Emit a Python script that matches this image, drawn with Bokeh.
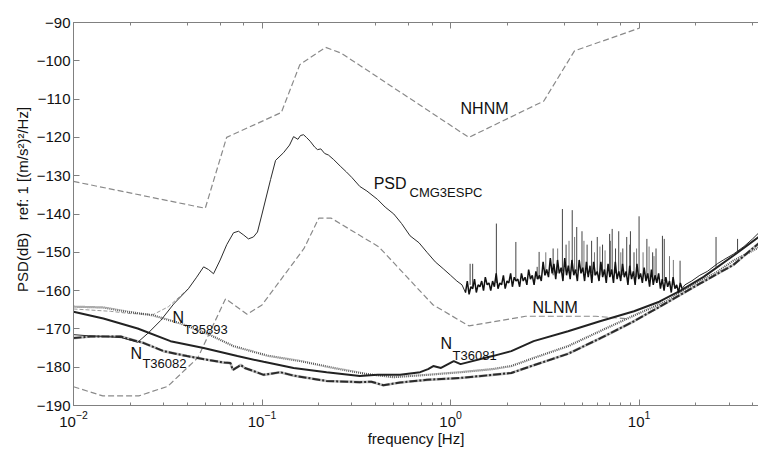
from bokeh.plotting import figure
from bokeh.models import Range1d, LogAxis, LogTicker, FixedTicker
from bokeh.core.properties import value
from bokeh.embed import file_html
from bokeh.resources import INLINE

# ---------------- data ----------------
nhnm_f = [0.01, 0.05, 0.0649, 0.1266, 0.1587, 0.2174, 0.2632, 1.25, 3.125, 4.545, 10.0]
nhnm_db = [-131.5, -138.5, -120.0, -113.5, -101.0, -96.5, -98.0, -120.0, -110.5, -97.4, -91.5]

nlnm_f = [0.01, 0.0143, 0.0222, 0.0316, 0.0457, 0.0641, 0.0833, 0.1, 0.167, 0.2, 0.233,
          0.417, 0.806, 1.25, 2.5, 5.88, 8.8]
nlnm_db = [-185.1, -187.5, -187.5, -185.0, -177.5, -162.1, -166.2, -163.75, -149.0, -141.1, -141.1,
           -148.6, -163.7, -169.2, -166.7, -166.7, -167.4]

# PSD of the CMG-3ESPC record: low-frequency part
psd_low_f = [0.010, 0.012, 0.015, 0.018, 0.0219, 0.025, 0.029, 0.034, 0.0407, 0.045, 0.049, 0.052,
             0.0553, 0.06, 0.065, 0.0706, 0.075, 0.08, 0.0847, 0.09, 0.0946, 0.1, 0.111, 0.118, 0.13,
             0.14, 0.147, 0.155, 0.16, 0.166, 0.172, 0.18, 0.19, 0.197, 0.205, 0.215, 0.225, 0.24,
             0.26, 0.28, 0.30, 0.33, 0.36, 0.41, 0.45, 0.5, 0.55, 0.61, 0.68, 0.75, 0.83, 0.915, 1.0,
             1.08, 1.15, 1.200]
psd_low_db = [-171.5, -171.8, -172.0, -172.3, -173.5, -171.0, -167.8, -163.5, -159.5, -156.5, -153.8, -154.5,
              -155.6, -152.0, -148.0, -144.9, -144.5, -145.5, -146.5, -146.0, -144.7, -140.0, -131.0, -126.0, -124.0,
              -122.0, -119.8, -120.5, -119.5, -119.3, -120.0, -121.0, -122.5, -123.2, -123.0, -124.2, -124.6, -125.8,
              -127.5, -129.0, -130.5, -132.8, -134.0, -136.2, -138.2, -140.0, -142.5, -145.7, -147.5, -150.0, -152.5, -154.3, -156.0,
              -157.5, -158.5, -160.5]

# PSD: noisy band 1.2 - 17 Hz
psd_mid_f = [1.200, 1.227, 1.254, 1.282, 1.311, 1.340, 1.370, 1.400, 1.432, 1.463,
             1.496, 1.529, 1.564, 1.599, 1.634, 1.671, 1.708, 1.746, 1.785, 1.825,
             1.865, 1.907, 1.949, 1.993, 2.037, 2.083, 2.129, 2.177, 2.225, 2.275,
             2.325, 2.377, 2.430, 2.484, 2.540, 2.596, 2.654, 2.713, 2.774, 2.836,
             2.899, 2.963, 3.029, 3.097, 3.166, 3.236, 3.308, 3.382, 3.458, 3.535,
             3.613, 3.694, 3.776, 3.860, 3.946, 4.034, 4.124, 4.216, 4.310, 4.406,
             4.504, 4.605, 4.707, 4.812, 4.919, 5.029, 5.141, 5.256, 5.373, 5.493,
             5.615, 5.740, 5.868, 5.999, 6.133, 6.270, 6.409, 6.552, 6.698, 6.848,
             7.000, 7.156, 7.316, 7.479, 7.646, 7.816, 7.990, 8.169, 8.351, 8.537,
             8.727, 8.922, 9.121, 9.324, 9.532, 9.744, 9.962, 10.18, 10.41, 10.64,
             10.88, 11.12, 11.37, 11.63, 11.89, 12.15, 12.42, 12.70, 12.98, 13.27,
             13.57, 13.87, 14.18, 14.50, 14.82, 15.15, 15.49, 15.83, 16.19, 16.55,
             16.92]
psd_mid_db = [-160.5, -157.5, -161.0, -159.0, -159.5, -157.0, -160.5, -158.5, -159.0, -157.5,
              -160.0, -156.5, -158.5, -158.0, -160.0, -157.5, -159.0, -155.5, -159.5, -158.0,
              -158.5, -156.0, -159.5, -157.5, -158.0, -155.5, -159.0, -156.5, -157.5, -157.0,
              -159.0, -155.5, -157.5, -156.5, -158.5, -154.5, -157.0, -156.0, -158.5, -155.0,
              -157.0, -156.0, -157.5, -152.5, -156.0, -154.5, -156.5, -151.5, -155.5, -153.0,
              -157.0, -152.0, -155.5, -154.0, -157.5, -151.5, -156.0, -153.5, -157.0, -152.0,
              -156.0, -154.5, -157.5, -152.0, -155.5, -154.0, -157.5, -152.5, -156.5, -153.5,
              -158.0, -152.5, -156.0, -155.0, -157.5, -152.5, -156.5, -154.5, -158.0, -153.0,
              -156.5, -154.5, -158.0, -152.5, -157.0, -155.0, -157.5, -153.0, -156.5, -155.0,
              -158.5, -153.5, -157.0, -155.0, -158.5, -153.0, -157.0, -155.5, -158.0, -154.0,
              -157.5, -155.5, -159.0, -154.5, -158.5, -156.0, -158.0, -155.5, -159.5, -157.0,
              -160.0, -156.5, -159.0, -157.5, -160.5, -156.5, -159.5, -158.5, -160.5, -158.0,
              -159.5]

# PSD: high-frequency part
psd_high_f = [16.92, 17.5, 19.0, 21.0, 23.0, 26.0, 28.0, 31.6, 36.0, 40.0, 44.0]
psd_high_db = [-159.5, -158.5, -157.5, -156.0, -155.0, -153.0, -152.0, -150.5, -148.5, -146.5, -144.5]

# tall spectral lines
spike_f = [1.27, 1.31, 1.75, 2.22, 2.88, 2.95, 3.5, 3.92, 4.1, 4.42, 4.67, 4.98, 5.3, 5.6, 6.0, 6.4,
           6.98, 7.2, 7.5, 7.8, 8.2, 8.6, 9.0, 9.4, 10.0, 11.0, 11.8, 12.3, 13.3, 13.6, 16.5, 25.6, 33.3]
spike_base = [-158.5, -159.0, -158.0, -157.5, -157.0, -157.0, -156.0, -155.0, -155.0, -155.0, -155.0, -155.0, -155.5, -155.5, -155.5, -155.5,
              -155.5, -155.5, -155.5, -155.5, -156.0, -156.0, -156.0, -156.0, -156.0, -156.5, -157.0, -157.0, -157.5, -157.5, -158.5, -154.0, -150.0]
spike_top = [-153.0, -153.0, -142.5, -147.3, -153.8, -149.9, -149.0, -138.7, -148.0, -139.0, -143.4, -144.5, -148.0, -147.0, -146.0, -148.0,
             -145.2, -143.9, -149.0, -144.5, -149.0, -146.0, -144.5, -150.0, -140.6, -146.5, -150.0, -149.0, -145.7, -146.5, -152.2, -146.0, -146.5]

# smaller spectral lines
small_f = [3.2, 3.7, 4.25, 4.55, 5.1, 5.8, 6.2, 6.6, 7.05, 8.0, 8.9, 9.7, 10.5, 11.3, 12.0, 14.5, 15.2]
small_base = [-156.0, -155.5, -155.5, -155.5, -155.5, -156.0, -156.0, -156.0, -156.0, -156.0, -156.0, -156.5, -156.5, -157.0, -157.0, -158.0, -158.5]
small_top = [-150.0, -149.0, -147.0, -146.0, -147.0, -150.0, -148.5, -149.5, -147.0, -150.0, -148.0, -149.0, -150.0, -148.5, -151.0, -151.0, -152.0]

aux_f = [0.01, 0.0157, 0.02, 0.0266, 0.0319, 0.0407]
aux_db = [-164.8, -165.4, -166.0, -166.2, -164.2, -159.5]

n35893_f = [0.01, 0.0144, 0.0193, 0.0266, 0.037, 0.051, 0.0706, 0.107, 0.16, 0.24, 0.36, 0.5, 0.61, 0.75,
            1.13, 1.67, 2.1, 2.76, 4.2, 6.2, 9.4, 14.2, 17.2, 26.0, 31.6, 44.0]
n35893_db = [-164.2, -164.4, -165.5, -166.5, -168.6, -171.2, -174.5, -177.0, -178.4, -180.2, -181.8, -182.6, -182.3, -182.0,
             -181.3, -180.5, -179.7, -177.6, -174.5, -170.6, -166.5, -162.6, -160.0, -155.1, -152.2, -148.5]

n36081_f = [0.01, 0.0144, 0.0219, 0.0327, 0.049, 0.074, 0.102, 0.147, 0.22, 0.33, 0.41, 0.54, 0.69, 0.76, 0.81,
            0.89, 1.04, 1.13, 1.67, 2.1, 2.76, 4.2, 6.2, 9.4, 12.8, 16.6, 22.0, 31.6, 44.0]
n36081_db = [-165.5, -167.3, -169.9, -173.2, -175.0, -177.1, -178.6, -180.2, -181.3, -182.3, -182.0, -182.0, -181.3, -180.5, -179.7,
             -180.2, -178.4, -179.2, -177.1, -175.8, -173.2, -170.6, -168.0, -165.4, -162.9, -160.0, -156.4, -150.9, -145.7]

n36082_f = [0.01, 0.0123, 0.0178, 0.0236, 0.03, 0.04, 0.053, 0.063, 0.068, 0.07, 0.074, 0.077, 0.081, 0.09,
            0.102, 0.125, 0.147, 0.22, 0.33, 0.38, 0.44, 0.54, 0.75, 1.13, 1.67, 2.1, 2.76, 4.2, 6.2, 9.4,
            14.2, 21.0, 31.6, 44.0]
n36082_db = [-172.4, -172.0, -172.0, -173.7, -175.8, -177.1, -178.2, -178.8, -178.9, -180.7, -180.0, -179.4, -180.2, -181.0,
             -182.0, -181.3, -182.2, -183.6, -183.9, -183.8, -184.7, -184.0, -183.3, -182.8, -182.0, -181.5, -179.5, -176.5, -172.5, -168.0,
             -163.0, -158.2, -153.3, -147.3]

y_ticks = [-190, -180, -170, -160, -150, -140, -130, -120, -110, -100, -90]

# ---------------- figure ----------------
FONT = "Liberation Sans"
NB = "\u00a0"
p = figure(width=758, height=449, x_axis_type="log",
           x_range=Range1d(0.01, 43.0), y_range=Range1d(-190, -90),
           output_backend="svg", toolbar_location=None,
           min_border_left=73, min_border_right=0, min_border_top=22, min_border_bottom=41)
p.outline_line_color = None
p.xgrid.visible = False
p.ygrid.visible = False
p.background_fill_color = "white"
p.border_fill_color = "white"

AX = "#808080"
p.xaxis.axis_label = "frequency [Hz]"
p.yaxis.axis_label = NB * 7 + "PSD(dB)" + NB * 3 + "ref: 1 [(m/s²)²/Hz]"
for ax in (p.xaxis[0], p.yaxis[0]):
    ax.axis_line_color = AX
    ax.major_tick_line_color = AX
    ax.minor_tick_line_color = AX
    ax.major_tick_in = 6
    ax.major_tick_out = 0
    ax.minor_tick_in = 3
    ax.minor_tick_out = 0
    ax.major_label_text_font = FONT
    ax.major_label_text_color = "#111111"
    ax.axis_label_text_font = FONT
    ax.axis_label_text_font_style = "normal"
    ax.axis_label_text_color = "#111111"
    ax.axis_label_text_font_size = "15px"
p.xaxis.major_label_text_font_size = "15px"
p.yaxis.major_label_text_font_size = "15px"
p.yaxis.ticker = FixedTicker(ticks=y_ticks)
p.yaxis.minor_tick_line_color = None
p.xaxis.major_label_standoff = 5
p.xaxis.axis_label_standoff = 0
p.yaxis.major_label_standoff = 3
p.yaxis.axis_label_standoff = 3

top = LogAxis(ticker=LogTicker())
top.axis_line_color = AX
top.major_tick_line_color = AX
top.minor_tick_line_color = AX
top.major_tick_in = 6
top.major_tick_out = 0
top.minor_tick_in = 3
top.minor_tick_out = 0
top.major_label_text_font_size = "2px"
top.major_label_text_color = None
top.major_label_standoff = 0
p.add_layout(top, "above")

# ---------------- curves ----------------
DASH = "6 3"
p.line(nhnm_f, nhnm_db, line_color="#8a8a8a", line_width=1.2, line_dash=DASH)
p.line(nlnm_f, nlnm_db, line_color="#8a8a8a", line_width=1.2, line_dash=DASH)

p.line(aux_f, aux_db, line_color="#9a9a9a", line_width=1, line_dash="4 2")

p.line(n35893_f, n35893_db, line_color="#555555", line_width=2.2, line_dash="1 1")
p.line(n36082_f, n36082_db, line_color="#bbbbbb", line_width=2.6)
p.line(n36082_f, n36082_db, line_color="#2a2a2a", line_width=2, line_dash="8 2 2 2")
p.line(n36081_f, n36081_db, line_color="#222222", line_width=2)

p.segment(x0=small_f, y0=small_base, x1=small_f, y1=small_top, line_color="#777777", line_width=1)
p.segment(x0=spike_f, y0=spike_base, x1=spike_f, y1=spike_top, line_color="#444444", line_width=1)
p.line(psd_low_f, psd_low_db, line_color="#2b2b2b", line_width=1)
p.line(psd_mid_f, psd_mid_db, line_color="#111111", line_width=1.5)
p.line(psd_high_f, psd_high_db, line_color="#2b2b2b", line_width=1)

# ---------------- labels ----------------
def lab(x, y, t, size):
    p.text(x=[x], y=[y], text=[t], text_font=value(FONT), text_font_size=size,
           text_baseline="middle", text_align="left", text_color="#111111")

lab(1.13, -112.4, "NHNM", "16px")
lab(2.72, -164.4, "NLNM", "16px")
lab(0.391, -132.0, "PSD", "16px")
lab(0.606, -134.3, "CMG3ESPC", "13px")
lab(0.0335, -167.0, "N", "16px")
lab(0.0384, -170.2, "T35893", "13px")
lab(0.02004, -176.3, "N", "16px")
lab(0.0232, -179.0, "T36082", "13px")
lab(0.885, -173.7, "N", "16px")
lab(1.025, -176.9, "T36081", "13px")

open("out.html", "w").write(file_html(p, INLINE))
